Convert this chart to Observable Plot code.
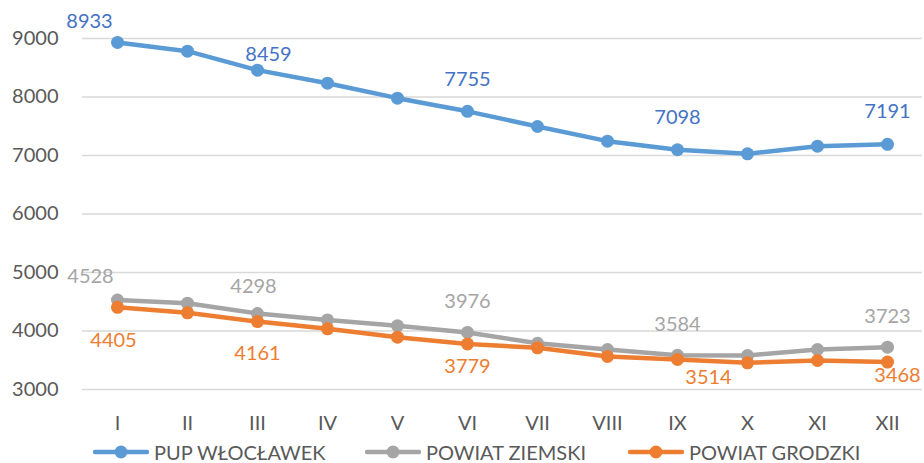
<!DOCTYPE html>
<html>
<head>
<meta charset="utf-8">
<script src="https://cdn.jsdelivr.net/npm/d3@7"></script>
<script src="https://cdn.jsdelivr.net/npm/@observablehq/plot@0.6"></script>
<style>
  html, body { margin: 0; padding: 0; background: #fff; }
  #wrap { position: relative; width: 924px; height: 463px; font-family: Lato, "Liberation Sans", sans-serif; }
  #legend { position: absolute; left: 0; top: 441px; width: 924px; height: 22px; }
  .item { position: absolute; top: 0; display: flex; align-items: center; height: 22px; font-size: 20px; color: #595959; }
  .item svg { margin-right: 5px; }
</style>
</head>
<body>
<div id="wrap"><div id="chart"></div><div id="legend"></div></div>
<script>
const months = ["I", "II", "III", "IV", "V", "VI", "VII", "VIII", "IX", "X", "XI", "XII"];
const seriesNames = ["PUP WŁOCŁAWEK", "POWIAT ZIEMSKI", "POWIAT GRODZKI"];
const pup = [8933, 8783, 8459, 8236, 7980, 7755, 7496, 7245, 7098, 7029, 7159, 7191];
const ziemski = [4528, 4475, 4298, 4190, 4090, 3976, 3791, 3684, 3584, 3581, 3684, 3723];
const grodzki = [4405, 4311, 4161, 4037, 3894, 3779, 3712, 3564, 3514, 3456, 3496, 3468];
const labelledMonths = ["I", "III", "VI", "IX", "XII"];
const yTicks = [3000, 4000, 5000, 6000, 7000, 8000, 9000];

// styling / layout (not data)
const lineColors = ["#5B9BD5", "#A5A5A5", "#ED7D31"];
const labelColors = ["#4472C4", "#A5A5A5", "#ED7D31"];
const labelOffsets = [
  [[-28, -21], [11, -16], [0, -32], [0, -32], [0, -33]],
  [[-27, -24], [-4, -27], [0, -31], [0, -31], [0, -31]],
  [[-4, 33], [0, 32], [0, 23], [31, 18], [10, 13]]
];

const allValues = [pup, ziemski, grodzki];
const rows = [];
allValues.forEach((vals, s) => vals.forEach((v, i) => rows.push({series: seriesNames[s], month: months[i], value: v})));

const marks = [
  Plot.gridY(yTicks, {stroke: "#d9d9d9", strokeOpacity: 1, strokeWidth: 1.5}),
  Plot.axisY(yTicks, {tickSize: 0, tickPadding: 24, fontSize: 20, fill: "#595959", label: null, tickFormat: d => String(d)}),
  Plot.axisX({tickSize: 0, tickPadding: 26, fontSize: 20, fill: "#595959", label: null})
];
seriesNames.forEach((name, s) => {
  const d = rows.filter(r => r.series === name);
  marks.push(Plot.line(d, {x: "month", y: "value", stroke: lineColors[s], strokeWidth: 4.5, strokeLinejoin: "round"}));
  marks.push(Plot.dot(d, {x: "month", y: "value", fill: lineColors[s], r: 6.5, stroke: null}));
});
seriesNames.forEach((name, s) => {
  labelledMonths.forEach((m, k) => {
    const d = rows.filter(r => r.series === name && r.month === m);
    const [dx, dy] = labelOffsets[s][k];
    marks.push(Plot.text(d, {x: "month", y: "value", text: r => String(r.value), fill: labelColors[s], fontSize: 20, dx, dy}));
  });
});

const chart = Plot.plot({
  width: 924,
  height: 441,
  marginLeft: 82,
  marginRight: 2,
  marginTop: 38,
  marginBottom: 52,
  style: {fontFamily: "Lato, 'Liberation Sans', sans-serif", background: "#fff", overflow: "visible"},
  x: {type: "point", domain: months, padding: 0.5},
  y: {domain: [3000, 9000]},
  marks
});
document.getElementById("chart").appendChild(chart);

const legend = document.getElementById("legend");
const lefts = [93, 365, 628];
seriesNames.forEach((name, s) => {
  const it = document.createElement("div");
  it.className = "item";
  it.style.left = lefts[s] + "px";
  it.innerHTML = `<svg width="56" height="16"><line x1="2" y1="8" x2="54" y2="8" stroke="${lineColors[s]}" stroke-width="4.5" stroke-linecap="round"/><circle cx="28" cy="8" r="6.5" fill="${lineColors[s]}"/></svg><span>${name}</span>`;
  legend.appendChild(it);
});
</script>
</body>
</html>
